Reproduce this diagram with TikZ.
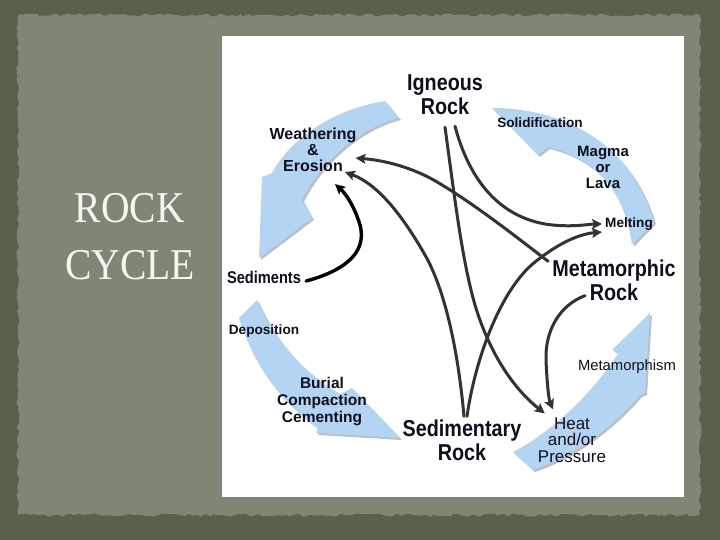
\documentclass[tikz,border=0pt]{standalone}
\usepackage{fontspec}
\setmainfont{Liberation Sans}
\newfontfamily\headfont[FakeStretch=0.86]{Liberation Sans}
\newfontfamily\titlefont[FakeStretch=0.9]{Liberation Serif}
\usetikzlibrary{arrows.meta,decorations.pathmorphing}
\definecolor{outerolive}{RGB}{88,98,74}
\definecolor{innerolive}{RGB}{127,134,118}
\definecolor{rockblue}{RGB}{180,212,244}
\definecolor{inkblack}{RGB}{15,15,28}
\definecolor{titlewhite}{RGB}{246,246,240}
\begin{document}
\begin{tikzpicture}[x=1pt, y=-1pt, line join=round, line cap=round,
    >={Stealth[length=10pt,width=10pt,inset=2pt]},
    rocklabel/.style={font=\headfont\bfseries\fontsize{23}{24}\selectfont, align=center, inner sep=1pt, text=inkblack},
    steplabel/.style={font=\bfseries\fontsize{16}{16}\selectfont, align=center, inner sep=1pt, text=inkblack},
    smalllabel/.style={font=\bfseries\fontsize{13.6}{16}\selectfont, inner sep=1pt, text=inkblack},
    thinlabel/.style={font=\fontsize{17}{16.5}\selectfont, align=center, inner sep=1pt, text=inkblack},
    bluearrow/.style={fill=rockblue, preaction={fill=black!25, transform canvas={shift={(2,2)}}}},
    link/.style={draw=black!80, line width=3pt, ->}]
  \useasboundingbox (0,0) rectangle (720,540);
  % slide background
  \fill[outerolive] (0,0) rectangle (720,540);
  \fill[innerolive, decorate, decoration={random steps, segment length=4pt, amplitude=1.5pt}]
    (18,15) rectangle (700,515);
  \node[font=\titlefont\fontsize{44}{57}\selectfont, text=titlewhite, align=center] (title) at (130,237) {ROCK\\CYCLE};
  % picture panel
  \fill[white] (222,36) rectangle (684,497);

  % blue cycle arrows
  \path[bluearrow] (399,118) .. controls (360,128) and (322,160) .. (302,200) -- (312,218) -- (259,258)
    -- (262,177) -- (272,173) .. controls (290,140) and (330,110) .. (385,101) -- cycle;
  \path[bluearrow] (632,245) .. controls (625,195) and (600,160) .. (548,147) -- (538,155) -- (492,108)
    .. controls (560,108) and (630,140) .. (654,222) -- cycle;
  \path[bluearrow] (239,318) .. controls (255,370) and (285,405) .. (318,428) -- (316,433) -- (400,438)
    -- (352,388) -- (340,394) .. controls (300,370) and (275,340) .. (257,300) -- cycle;
  \path[bluearrow] (533,470) .. controls (570,458) and (610,430) .. (640,395) -- (645,393) -- (650,313)
    -- (612,350) -- (619,352) .. controls (595,390) and (555,430) .. (513,452) -- cycle;

  % labels
  \node[rocklabel] (ign) at (445,95) {Igneous\\Rock};
  \node[rocklabel] (met) at (614,280) {Metamorphic\\Rock};
  \node[rocklabel] (sed) at (462,440) {Sedimentary\\Rock};
  \node[rocklabel, font=\headfont\bfseries\fontsize{17}{17}\selectfont] (sedim) at (264,277) {Sediments};
  \node[steplabel] (weath) at (313,150) {Weathering\\\&\\Erosion};
  \node[smalllabel] (solid) at (540,123) {Solidification};
  \node[steplabel, font=\bfseries\fontsize{15}{16}\selectfont] (magma) at (603,167) {Magma\\or\\Lava};
  \node[smalllabel] (melt) at (629,224) {Melting};
  \node[thinlabel, font=\fontsize{14.8}{16}\selectfont] (metam) at (627,367) {Metamorphism};
  \node[thinlabel] (heat) at (572,440) {Heat\\and/or\\Pressure};
  \node[smalllabel] (depo) at (264,331) {Deposition};
  \node[steplabel, font=\bfseries\fontsize{15.5}{17}\selectfont] (burial) at (322,402) {Burial\\Compaction\\Cementing};

  % process links
  \draw[link, draw=black, line width=3.4pt] ([shift={(4,4)}]sedim.east) .. controls (340,272) and (368,255) .. (360,225)
    .. controls (354,205) and (345,193) .. ([shift={(22,11)}]weath.south);
  \draw[link] ([shift={(10,10)}]ign.south) .. controls (468,175) and (495,215) .. (545,224)
    .. controls (570,228) and (590,224) .. ([shift={(-2,0)}]melt.west);
  \draw[link] ([shift={(5,-2)}]sed.north) .. controls (475,360) and (500,290) .. (535,262)
    .. controls (560,242) and (580,234) .. ([shift={(-2,8)}]melt.west);
  \draw[link] ([shift={(-3,3)}]met.north west) .. controls (520,240) and (470,200) .. (430,178)
    .. controls (405,165) and (380,160) .. ([shift={(-2,8)}]weath.east);
  \draw[link] ([shift={(2,-2)}]sed.north) .. controls (458,350) and (445,290) .. (425,255)
    .. controls (405,220) and (380,185) .. ([shift={(32,-1)}]weath.south);
  \draw[link] ([shift={(0,11)}]ign.south) .. controls (455,200) and (462,260) .. (475,305)
    .. controls (490,355) and (515,390) .. ([shift={(8,-3)}]heat.north west);
  \draw[link] ([shift={(-29,-6)}]met.south) .. controls (560,305) and (545,330) .. (546,360)
    .. controls (547,385) and (549,400) .. ([shift={(-19,-7)}]heat.north);
\end{tikzpicture}
\end{document}
